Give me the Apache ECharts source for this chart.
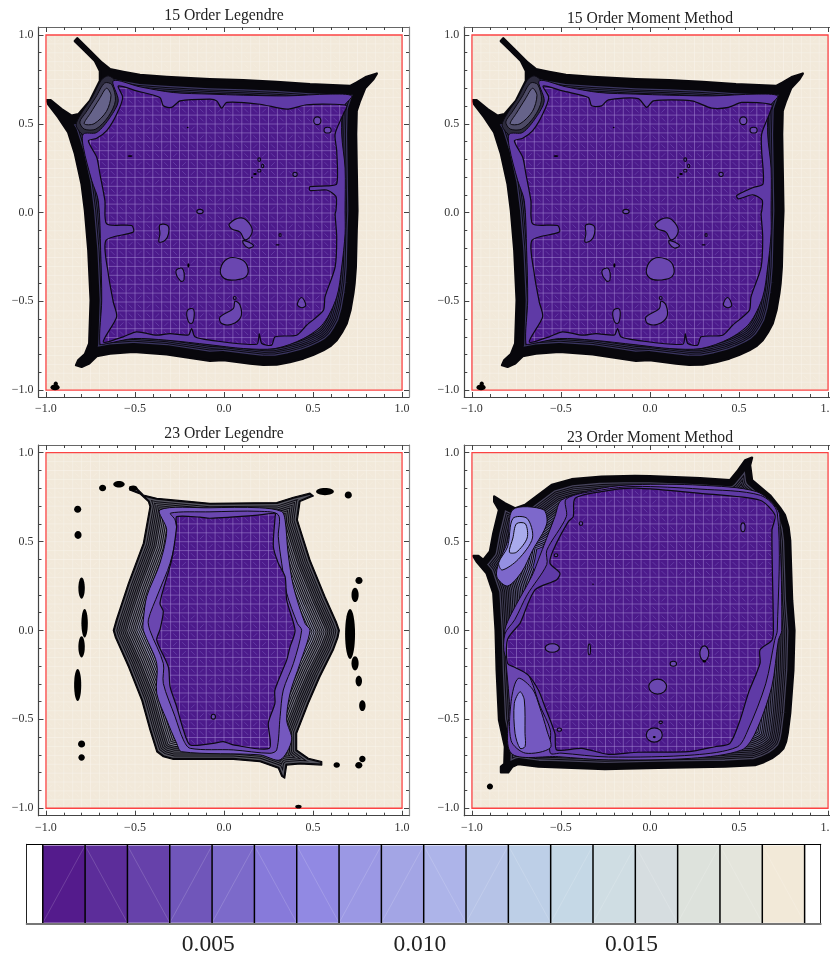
<!DOCTYPE html>
<html><head><meta charset="utf-8"><style>html,body{margin:0;padding:0;background:#fff}#c{width:830px;height:956px}</style>
<script src="https://cdn.jsdelivr.net/npm/echarts@6/dist/echarts.min.js"></script></head><body><div id="c"></div><script>
// ---- values ----
const panelTitles=['15 Order Legendre','15 Order Moment Method','23 Order Legendre','23 Order Moment Method'];
const majorTicks=[-1,-0.5,0,0.5,1];
const minorTicks=[-0.9,-0.8,-0.7,-0.6,-0.4,-0.3,-0.2,-0.1,0.1,0.2,0.3,0.4,0.6,0.7,0.8,0.9];
const legendEdges=[0.00109,0.00209,0.00309,0.00409,0.00509,0.00609,0.00709,0.00809,0.00909,0.01009,0.01109,0.01209,0.01309,0.01409,0.01509,0.01609,0.01709,0.01809,0.01909];
const legendTicks=[0.005,0.010,0.015];
const legendColors=['#541b8c','#5c2d9a','#6641aa','#7056ba','#7c6aca','#877ada','#9189e3','#9b98e4','#a3a5e5','#adb4e9','#b6c3e7','#bdcfe7','#c5d8e6','#cfdde3','#d6dde0','#dde2dc','#e4e5dc','#f2e9d8'];
const legendDiagonals=[1,0,0,1,1,0,0,1,1,0,1,0,1,1,0,1,0,0];

const outer15=[[-.824,.981],[-.753,.91],[-.687,.845],[-.64,.807],[-.566,.792],[-.472,.775],[-.322,.764],[-.079,.751],[.109,.745],[.296,.736],[.483,.723],[.708,.713],[.745,.732],[.8,.764],[.858,.783],[.839,.751],[.792,.70],[.764,.63],[.745,.573],[.742,.44],[.745,.25],[.749,.01],[.745,-.1],[.74,-.307],[.733,-.4],[.726,-.457],[.71,-.55],[.689,-.625],[.662,-.675],[.633,-.719],[.6,-.75],[.558,-.775],[.5,-.802],[.446,-.822],[.37,-.842],[.296,-.856],[.22,-.858],[.146,-.85],[-.004,-.831],[-.079,-.835],[-.322,-.798],[-.509,-.785],[-.64,-.794],[-.715,-.809],[-.757,-.85],[-.8,-.869],[-.831,-.86],[-.818,-.831],[-.781,-.798],[-.757,-.738],[-.749,-.494],[-.762,-.213],[-.781,.011],[-.8,.161],[-.837,.33],[-.875,.451],[-.931,.536],[-.987,.61],[-.996,.633],[-.974,.633],[-.912,.582],[-.856,.545],[-.818,.554],[-.753,.629],[-.697,.742],[-.697,.798],[-.725,.854],[-.79,.919],[-.838,.966]];
const ring15=[[-.622,.742],[-.472,.708],[-.285,.676],[-.079,.667],[.109,.661],[.352,.657],[.596,.667],[.717,.657],[.67,.592],[.661,.442],[.68,.25],[.68,.011],[.68,-.12],[.661,-.307],[.633,-.476],[.558,-.625],[.446,-.71],[.287,-.766],[.109,-.766],[-.079,-.745],[-.322,-.719],[-.509,-.71],[-.659,-.738],[-.697,-.738],[-.687,-.494],[-.693,-.213],[-.706,.067],[-.743,.18],[-.79,.367],[-.79,.442],[-.715,.451],[-.64,.536],[-.594,.629]];
const fanA15=[[-.80,.56],[-.74,.65],[-.69,.745],[-.65,.77],[-.61,.74],[-.585,.64],[-.63,.52],[-.71,.44],[-.78,.43],[-.83,.49]];
const fanB15=[[-.775,.565],[-.72,.65],[-.67,.73],[-.63,.72],[-.61,.63],[-.65,.54],[-.72,.47],[-.785,.47],[-.81,.51]];
const fanC15=[[-.75,.56],[-.70,.64],[-.66,.70],[-.635,.66],[-.66,.57],[-.73,.50],[-.785,.50]];
const inner15a=[[-.594,.713],[-.491,.685],[-.36,.648],[-.341,.601],[-.294,.592],[-.247,.629],[-.079,.639],[-.041,.629],[-.013,.588],[.015,.62],[.202,.61],[.352,.582],[.464,.607],[.614,.61],[.689,.601],[.67,.554],[.624,.442],[.633,.348],[.633,.161],[.577,.15],[.483,.146],[.483,.124],[.577,.127],[.629,.09],[.629,.011],[.624,-.007],[.633,-.139],[.624,-.307],[.567,-.476],[.558,-.551],[.464,-.635],[.408,-.691],[.287,-.7],[.268,-.747],[.212,-.738],[.198,-.682],[.184,-.742],[-.079,-.719],[-.163,-.7],[-.182,-.654],[-.2,-.69],[-.303,-.682],[-.378,-.691],[-.491,-.672],[-.566,-.7],[-.678,-.729],[-.603,-.588],[-.622,-.504],[-.65,-.345],[-.663,-.157],[-.509,-.11],[-.519,-.073],[-.659,-.064],[-.669,.067],[-.697,.217],[-.715,.311],[-.762,.404],[-.715,.418],[-.659,.461],[-.603,.554],[-.569,.648]];
const inner15b=[[-.6,.713],[-.491,.685],[-.346,.648],[-.328,.601],[-.272,.601],[-.234,.635],[-.066,.642],[-.019,.592],[.019,.629],[.234,.629],[.346,.588],[.44,.592],[.515,.62],[.684,.607],[.67,.554],[.627,.442],[.627,.348],[.635,.161],[.577,.14],[.487,.096],[.496,.077],[.577,.1],[.63,.07],[.628,.011],[.624,-.007],[.633,-.139],[.624,-.307],[.567,-.476],[.558,-.551],[.464,-.635],[.408,-.691],[.287,-.7],[.268,-.747],[.212,-.738],[.198,-.682],[.184,-.742],[-.079,-.719],[-.163,-.7],[-.182,-.654],[-.2,-.69],[-.303,-.682],[-.378,-.691],[-.491,-.672],[-.566,-.7],[-.678,-.729],[-.603,-.588],[-.622,-.504],[-.65,-.345],[-.663,-.157],[-.509,-.11],[-.519,-.073],[-.659,-.064],[-.669,.067],[-.697,.217],[-.715,.311],[-.762,.404],[-.715,.418],[-.659,.461],[-.603,.554],[-.569,.648]];
const blobShapes15=[
 [[.03,-.064],[.099,-.03],[.15,-.073],[.155,-.12],[.118,-.154],[.09,-.11],[.043,-.092]],
 [[.109,-.157],[.165,-.185],[.137,-.2],[.109,-.176]],
 [[-.022,-.588],[.052,-.541],[.062,-.5],[.09,-.522],[.094,-.588],[.043,-.629],[-.013,-.625]],
 [[.412,-.517],[.436,-.479],[.459,-.522],[.436,-.536]],
 [[-.36,-.07],[-.315,-.075],[-.312,-.12],[-.33,-.155],[-.365,-.165],[-.36,-.12]],
 [[-.27,-.33],[-.235,-.315],[-.225,-.38],[-.245,-.385]],
 [[-.205,-.55],[-.172,-.545],[-.17,-.6],[-.185,-.625],[-.205,-.6]],
 [[-.02,-.32],[.02,-.26],[.09,-.262],[.13,-.3],[.125,-.36],[.06,-.38],[0,-.37]]
];
const loops15=[[.524,.517,.02,.022],[.582,.464,.02,.016],[.399,.215,.012,.012],[-.135,.006,.018,.012],[.198,.298,.008,.01],[.217,.262,.006,.01],[.198,.236,.009,.008],[.06,-.481,.008,.008],[.315,-.127,.006,.008]];
const solids15=[[-.949,-.985,.026,.016],[-.945,-.965,.012,.014],[-.528,.318,.014,.005],[-.204,.479,.005,.004],[.174,.217,.01,.006],[.157,.198,.005,.005],[-.2,-.298,.006,.012],[.301,-.182,.012,.004]];

const outer23a=[[-.528,.809],[-.491,.8],[-.453,.762],[-.378,.743],[-.285,.734],[-.079,.715],[.296,.719],[.39,.749],[.483,.772],[.502,.757],[.427,.725],[.412,.622],[.483,.397],[.567,.191],[.63,.05],[.648,0],[.64,-.04],[.614,-.11],[.539,-.26],[.474,-.41],[.408,-.579],[.408,-.672],[.474,-.719],[.549,-.738],[.549,-.757],[.427,-.751],[.352,-.757],[.341,-.831],[.324,-.82],[.305,-.775],[.202,-.738],[.052,-.725],[-.135,-.725],[-.285,-.725],[-.341,-.71],[-.378,-.682],[-.416,-.56],[-.463,-.391],[-.537,-.204],[-.61,-.04],[-.622,0],[-.605,.06],[-.537,.266],[-.453,.491],[-.416,.697],[-.425,.725],[-.472,.768],[-.53,.79]];
const ringA23a=[[-.36,.678],[-.079,.69],[.2,.69],[.324,.669],[.343,.622],[.36,.434],[.39,.247],[.455,.04],[.483,0],[.427,-.185],[.371,-.354],[.352,-.504],[.38,-.616],[.315,-.728],[.202,-.7],[-.238,-.682],[-.266,-.635],[-.322,-.504],[-.378,-.354],[-.378,-.185],[-.453,0],[-.453,.06],[-.434,.191],[-.36,.378],[-.322,.566]];
const ringB23a=[[-.3,.66],[-.079,.667],[.2,.67],[.305,.65],[.305,.528],[.324,.378],[.352,.21],[.412,.04],[.436,0],[.39,-.185],[.333,-.335],[.315,-.485],[.296,-.672],[.258,-.691],[.052,-.672],[-.19,-.663],[-.228,-.616],[-.275,-.485],[-.341,-.298],[-.341,-.185],[-.416,0],[-.425,.06],[-.369,.21],[-.303,.378],[-.266,.547],[-.275,.622]];
const inner23a=[[-.266,.64],[-.135,.637],[-.079,.631],[.202,.65],[.287,.659],[.287,.64],[.277,.472],[.305,.378],[.343,.303],[.352,.172],[.399,0],[.371,-.092],[.352,-.167],[.286,-.335],[.286,-.41],[.249,-.522],[.255,-.663],[.052,-.644],[-.004,-.625],[-.06,-.635],[-.19,-.644],[-.228,-.56],[-.266,-.429],[-.303,-.316],[-.313,-.204],[-.378,-.054],[-.36,.004],[-.341,.107],[-.36,.154],[-.294,.397],[-.266,.584]];
const solids23a=[[-.682,.801,.02,.018],[-.59,.822,.032,.018],[-.51,.8,.024,.015],[-.822,.682,.02,.02],[-.82,.537,.02,.022],[-.8,.238,.018,.06],[-.783,.04,.018,.08],[-.8,-.092,.018,.06],[-.822,-.307,.02,.09],[-.8,-.639,.02,.02],[-.8,-.715,.018,.018],[.633,-.757,.018,.016],[.777,-.723,.018,.018],[.757,-.758,.02,.018],[.777,-.423,.018,.03],[.757,-.285,.018,.03],[.736,-.185,.02,.04],[.708,-.02,.028,.14],[.736,.2,.02,.04],[.758,.281,.02,.02],[.567,.781,.05,.02],[.698,.762,.02,.02],[.418,-.991,.018,.01]];
const loops23a=[[-.06,-.485,.012,.014]];

const outer23b=[[-.875,.753],[-.815,.715],[-.758,.687],[-.702,.706],[-.627,.762],[-.552,.818],[-.44,.85],[-.272,.865],[-.084,.869],[0,.867],[.281,.856],[.449,.845],[.494,.9],[.534,.956],[.573,.972],[.562,.929],[.573,.845],[.674,.76],[.73,.69],[.758,.648],[.778,.58],[.787,.507],[.798,.17],[.811,0],[.805,-.223],[.787,-.466],[.773,-.579],[.764,-.625],[.749,-.663],[.72,-.693],[.684,-.719],[.64,-.74],[.59,-.757],[.421,-.766],[.047,-.772],[-.253,-.779],[-.515,-.77],[-.627,-.766],[-.74,-.751],[-.773,-.766],[-.796,-.798],[-.837,-.798],[-.837,-.766],[-.818,-.751],[-.815,-.654],[-.848,-.504],[-.861,-.223],[-.867,0],[-.88,.21],[-.918,.322],[-.974,.388],[-.993,.419],[-.964,.419],[-.936,.397],[-.899,.444],[-.88,.547],[-.848,.678],[-.875,.725]];
const ringA23b=[[-.496,.734],[-.272,.80],[-.084,.82],[.281,.817],[.6,.78],[.719,.676],[.73,.563],[.74,0],[.721,-.056],[.684,-.316],[.59,-.579],[.515,-.672],[.234,-.719],[-.234,-.728],[-.515,-.71],[-.78,-.69],[-.79,-.4],[-.815,-.1],[-.815,.004],[-.777,.097],[-.665,.303],[-.627,.397],[-.534,.64]];
const ringB23b=[[-.47,.74],[-.272,.79],[-.084,.81],[.281,.795],[.62,.76],[.715,.66],[.715,0],[.70,-.056],[.65,-.3],[.55,-.56],[.49,-.655],[.25,-.70],[-.234,-.712],[-.5,-.69],[-.56,-.69],[-.56,-.56],[-.62,-.42],[-.66,-.30],[-.70,-.22],[-.76,-.175],[-.815,-.14],[-.815,-.02],[-.76,.06],[-.69,.2],[-.58,.37],[-.58,.45],[-.47,.64]];
const inner23b=[[-.421,.743],[-.272,.781],[-.084,.8],[.281,.771],[.618,.732],[.702,.648],[.685,.563],[.693,0],[.684,-.056],[.618,-.11],[.618,-.185],[.552,-.354],[.506,-.504],[.449,-.635],[.365,-.654],[.215,-.682],[-.066,-.685],[-.234,-.697],[-.384,-.663],[-.524,-.672],[-.534,-.579],[-.59,-.429],[-.627,-.335],[-.684,-.251],[-.758,-.208],[-.8,-.185],[-.8,-.05],[-.73,.04],[-.721,.06],[-.646,.228],[-.524,.285],[-.506,.322],[-.562,.378],[-.543,.453],[-.459,.612],[-.431,.64]];
const fanOuter23b=[[-.77,.68],[-.6,.68],[-.58,.6],[-.66,.45],[-.72,.33],[-.80,.25],[-.86,.30],[-.85,.38],[-.80,.5]];
const fanInner23b=[[-.77,.63],[-.69,.63],[-.66,.52],[-.74,.40],[-.83,.34],[-.85,.38],[-.80,.47]];
const fanCore23b=[[-.75,.60],[-.70,.60],[-.69,.52],[-.75,.44],[-.79,.44],[-.77,.52]];
const lump23b=[[-.74,-.27],[-.66,-.33],[-.62,-.43],[-.58,-.56],[-.56,-.66],[-.7,-.69],[-.78,-.62],[-.78,-.4]];
const lowLeft23b=[[-.73,-.345],[-.706,-.391],[-.702,-.579],[-.702,-.654],[-.73,-.663],[-.758,-.579],[-.762,-.41]];
const loops23b=[[-.388,.601,.01,.01],[-.528,.423,.01,.008],[.522,.58,.012,.025],[-.549,-.099,.04,.024],[-.341,-.107,.007,.03],[.305,-.129,.025,.042],[.131,-.187,.018,.014],[.043,-.316,.05,.042],[.06,-.517,.01,.007],[.024,-.588,.045,.04],[-.509,-.558,.012,.009]];
const solids23b=[[-.899,-.878,.017,.017],[.024,-.6,.008,.006],[.305,-.175,.01,.006],[-.32,.26,.004,.004]];

// ---- layout of the four plots and the colour key ----
const rings15=[[fanA15,'#2c2a3c'],[fanB15,'#4d4a66'],[fanC15,'#66638a'],[ring15,'#5f3aa6']];
const plots=[
 {l:38.5,t:27,w:370.5,h:370,x:[-1.042,1.039],y:[-1.039,1.045],px:46,py:35,titleX:224,titleY:8,solid:9,step:1.7,lw:1,gaps:['#3a3560','#4f4878','#5f5a8c','#6f68a0'],outer:outer15,rings:rings15,inner:inner15a,shapes:blobShapes15,loops:loops15,solids:solids15},
 {l:464.3,t:27,w:370.7,h:370,x:[-1.043,1.039],y:[-1.039,1.045],px:472,py:35,titleX:650,titleY:11,solid:9,step:1.7,lw:1,gaps:['#3a3560','#4f4878','#5f5a8c','#6f68a0'],outer:outer15,rings:rings15,inner:inner15b,shapes:blobShapes15,loops:loops15,solids:solids15},
 {l:38.5,t:445,w:370.5,h:370.7,x:[-1.042,1.039],y:[-1.042,1.043],px:46,py:452.7,titleX:224,titleY:426,solid:1.5,step:1.9,lw:.95,gaps:['#55555f','#7a7a88','#8f90aa','#8a88c8','#7d6ccc'],outer:outer23a,rings:[[ringA23a,'#7558bf'],[ringB23a,'#6a46b0']],inner:inner23a,shapes:[],loops:loops23a,solids:solids23a},
 {l:464.3,t:445,w:370.7,h:370.7,x:[-1.043,1.039],y:[-1.042,1.043],px:472,py:452.7,titleX:650,titleY:430,solid:6,step:1.8,lw:1,gaps:['#45425a','#5a5878','#6c6a96','#7a72b4'],outer:outer23b,rings:[[ringA23b,'#6a46b0'],[ringB23b,'#5f3aa6'],[fanOuter23b,'#7d68cb'],[fanInner23b,'#9590e2'],[fanCore23b,'#a9abec'],[lump23b,'#7458c0'],[lowLeft23b,'#8d7fdc']],inner:inner23b,shapes:[],loops:loops23b,solids:solids23b}
];
const SERIF='"Liberation Serif","Times New Roman",serif';
function tile(ox,oy,bg,lineC,diagC){
  const c=document.createElement('canvas');c.width=89;c.height=89;const g=c.getContext('2d');
  g.fillStyle=bg;g.fillRect(0,0,89,89);
  const s=8.9;
  g.strokeStyle=diagC;g.lineWidth=.8;
  for(let i=-1;i<=10;i++)for(let j=-1;j<=10;j++){
    const x=(ox%s)+i*s,y=(oy%s)+j*s,d=(((i+10)*3+(j+10)*7)%5)<4;
    g.beginPath();
    if(d){g.moveTo(x+2.6,y+2.6);g.lineTo(x+s-2.6,y+s-2.6);}else{g.moveTo(x+s-2.6,y+2.6);g.lineTo(x+2.6,y+s-2.6);}
    g.stroke();
  }
  g.strokeStyle=lineC;g.lineWidth=1;
  for(let i=-1;i<=10;i++){const v=(ox%s)+i*s;g.beginPath();g.moveTo(v,0);g.lineTo(v,89);g.stroke();}
  for(let j=-1;j<=10;j++){const v=(oy%s)+j*s;g.beginPath();g.moveTo(0,v);g.lineTo(89,v);g.stroke();}
  return c;
}
const series=[],grids=[],xAxes=[],yAxes=[],titles=[];
const fmt=v=>(v<0?'\u2212':'')+Math.abs(v).toFixed(1);
function base(i,data,render){return {type:'custom',coordinateSystem:'cartesian2d',xAxisIndex:i*4,yAxisIndex:i*4,clip:true,silent:true,animation:false,data:data,encode:{x:0,y:1},renderItem:render};}
function polyS(i,pts,style,smooth){return base(i,pts,(p,api)=>{if(p.dataIndex)return null;return {type:'polygon',shape:{points:pts.map(q=>api.coord(q)),smooth:smooth||0},style};});}
function area(a){let s=0;a.forEach((q,k)=>{const r=a[(k+1)%a.length];s+=q[0]*r[1]-r[0]*q[1];});return s;}
function keyhole(i,box,hole,style){return base(i,hole,(p,api)=>{if(p.dataIndex)return null;
  const r=box.map(q=>api.coord(q));let h=hole.map(q=>api.coord(q));
  if(area(r)*area(h)>0)h=h.slice().reverse();
  return {type:'polygon',shape:{points:r.concat([r[0]],h,[h[0],r[0]])},style};});}
function corners(xa,ya){return [[xa[0],ya[0]],[xa[0],ya[1]],[xa[1],ya[1]],[xa[1],ya[0]]];}
plots.forEach((P,i)=>{
  grids.push({left:P.l,top:P.t,width:P.w,height:P.h,show:true,backgroundColor:'#fff',borderWidth:0,outerBoundsMode:'none',containLabel:false});
  titles.push({text:panelTitles[i],left:P.titleX,top:P.titleY,padding:0,textAlign:'center',textStyle:{fontFamily:SERIF,fontSize:15.7,fontWeight:'normal',color:'#222'}});
  ['bottom','top'].forEach((pos,a)=>{[majorTicks,minorTicks].forEach((vals,m)=>{
    xAxes.push({gridIndex:i,type:'value',position:pos,min:P.x[0],max:P.x[1],z:10,splitLine:{show:false},
      axisLine:{show:m===0,onZero:false,lineStyle:{color:a?'#666':'#444',width:1.2}},
      axisTick:{show:true,inside:true,length:m?3:5,customValues:vals,lineStyle:{color:'#444',width:1}},
      axisLabel:(a===0&&m===0)?{show:true,customValues:majorTicks,formatter:fmt,margin:6,fontFamily:SERIF,fontSize:12,color:'#333',hideOverlap:false}:{show:false}});
  });});
  ['left','right'].forEach((pos,a)=>{[majorTicks,minorTicks].forEach((vals,m)=>{
    yAxes.push({gridIndex:i,type:'value',position:pos,min:P.y[0],max:P.y[1],z:10,splitLine:{show:false},
      axisLine:{show:m===0,onZero:false,lineStyle:{color:a?'#888':'#444',width:1.2}},
      axisTick:{show:true,inside:true,length:m?3:5,customValues:vals,lineStyle:{color:'#444',width:1}},
      axisLabel:(a===0&&m===0)?{show:true,customValues:majorTicks,formatter:fmt,margin:5,fontFamily:SERIF,fontSize:12,color:'#333',hideOverlap:false}:{show:false}});
  });});
  const box=corners([-1,1],[-1,1]);
  const purple=tile(P.px,P.py,'#4c1a8b','rgba(165,140,215,.5)','rgba(125,95,190,.6)');
  const beige=tile(P.px,P.py,'#f2e9da','rgba(250,246,238,.5)','rgba(247,241,230,.45)');
  series.push(polyS(i,box,{fill:{image:beige,repeat:'repeat'}}));
  // nested level lines inside the outermost contour, deepest first
  const stripes=[];const N=i===2?27:22;
  for(let k=N;k>=1;k--){
    const d=P.solid+k*P.step;
    const c=P.gaps[Math.min(P.gaps.length-1,Math.floor((k-1)/N*P.gaps.length))];
    stripes.push({w:2*(d+P.lw/2),c:'#0c0a12'});
    stripes.push({w:2*(d-P.lw/2),c:c});
  }
  stripes.push({w:2*P.solid,c:'#08070c'});
  series.push(base(i,P.outer,(p,api)=>{if(p.dataIndex)return null;
    const pts=P.outer.map(q=>api.coord(q));
    return {type:'group',children:[{type:'polygon',shape:{points:pts},style:{fill:'#5a3fa8'}}].concat(stripes.map(s=>({type:'polygon',shape:{points:pts},style:{fill:'none',stroke:s.c,lineWidth:s.w,lineJoin:'round'}})))};}));
  // everything outside the outermost contour goes back to the floor colour
  series.push(keyhole(i,box,P.outer,{fill:{image:beige,repeat:'repeat'}}));
  series.push(polyS(i,P.outer,{fill:'none',stroke:'#08070c',lineWidth:i===2?1.2:2.4,lineJoin:'round'}));
  series.push(keyhole(i,corners(P.x,P.y),box,{fill:'#fff'}));
  P.rings.forEach(r=>series.push(polyS(i,r[0],{fill:r[1],stroke:'#0c0a12',lineWidth:1,lineJoin:'round'},.3)));
  series.push(polyS(i,P.inner,{fill:{image:purple,repeat:'repeat'},stroke:'#0c0a12',lineWidth:1.2,lineJoin:'round'},.25));
  P.shapes.forEach(s=>series.push(polyS(i,s,{fill:'#6a46b0',stroke:'#0c0a12',lineWidth:1.1},.4)));
  const ell=(arr,style)=>base(i,arr,(p,api)=>{const c=api.coord([api.value(0),api.value(1)]),z=api.size([api.value(2),api.value(3)]);return {type:'ellipse',shape:{cx:c[0],cy:c[1],rx:z[0],ry:z[1]},style};});
  series.push(ell(P.loops,{fill:'#6a46b0',stroke:'#0c0a12',lineWidth:1.1}));
  series.push(polyS(i,box,{fill:'none',stroke:'#fb4343',lineWidth:1.3}));
  series.push(ell(P.solids,{fill:'#000'}));
});
// colour key
const K=4;
grids.push({left:26.7,top:844.3,width:794,height:79.7,show:false,outerBoundsMode:'none'});
xAxes.push({gridIndex:K,type:'value',position:'bottom',min:0.00071,max:0.01947,z:10,splitLine:{show:false},axisLine:{show:true,onZero:false,lineStyle:{color:'#777',width:2}},axisTick:{show:false},
  axisLabel:{show:true,customValues:legendTicks,formatter:v=>v.toFixed(3),margin:9,fontFamily:SERIF,fontSize:23.5,color:'#222',hideOverlap:false}});
xAxes.push({gridIndex:K,type:'value',position:'top',min:0.00071,max:0.01947,z:10,splitLine:{show:false},axisLine:{show:true,onZero:false,lineStyle:{color:'#000',width:1.2}},axisTick:{show:false},axisLabel:{show:false}});
yAxes.push({gridIndex:K,type:'value',position:'left',min:0,max:1,z:10,splitLine:{show:false},axisLine:{show:true,onZero:false,lineStyle:{color:'#222',width:1}},axisTick:{show:false},axisLabel:{show:false}});
yAxes.push({gridIndex:K,type:'value',position:'right',min:0,max:1,z:10,splitLine:{show:false},axisLine:{show:true,onZero:false,lineStyle:{color:'#222',width:1}},axisTick:{show:false},axisLabel:{show:false}});
const XK=plots.length*4,YK=plots.length*4;
series.push({type:'custom',coordinateSystem:'cartesian2d',xAxisIndex:XK,yAxisIndex:YK,silent:true,animation:false,
  data:legendColors.map((c,n)=>[legendEdges[n],legendEdges[n+1],n]),encode:{x:[0,1]},
  renderItem:(p,api)=>{const n=api.value(2),a=api.coord([api.value(0),0.015]),b=api.coord([api.value(1),0.985]);
    const up=legendDiagonals[n];
    return {type:'group',children:[
      {type:'rect',shape:{x:a[0],y:b[1],width:b[0]-a[0],height:a[1]-b[1]},style:{fill:legendColors[n]}},
      {type:'line',shape:{x1:a[0],y1:up?a[1]:b[1],x2:b[0],y2:up?b[1]:a[1]},style:{stroke:'rgba(255,255,255,.2)',lineWidth:.8}}
    ]};}});
series.push({type:'custom',coordinateSystem:'cartesian2d',xAxisIndex:XK,yAxisIndex:YK,silent:true,animation:false,
  data:legendEdges.map(v=>[v]),encode:{x:0},
  renderItem:(p,api)=>{const a=api.coord([api.value(0),0]),b=api.coord([api.value(0),1]);
    return {type:'line',shape:{x1:a[0],y1:a[1],x2:b[0],y2:b[1]},style:{stroke:'#000',lineWidth:1.5}};}});
const chart=echarts.init(document.getElementById('c'),null,{renderer:'canvas',width:830,height:956});
chart.setOption({animation:false,backgroundColor:'#fff',title:titles,grid:grids,xAxis:xAxes,yAxis:yAxes,series:series,tooltip:{show:false}});
</script></body></html>
